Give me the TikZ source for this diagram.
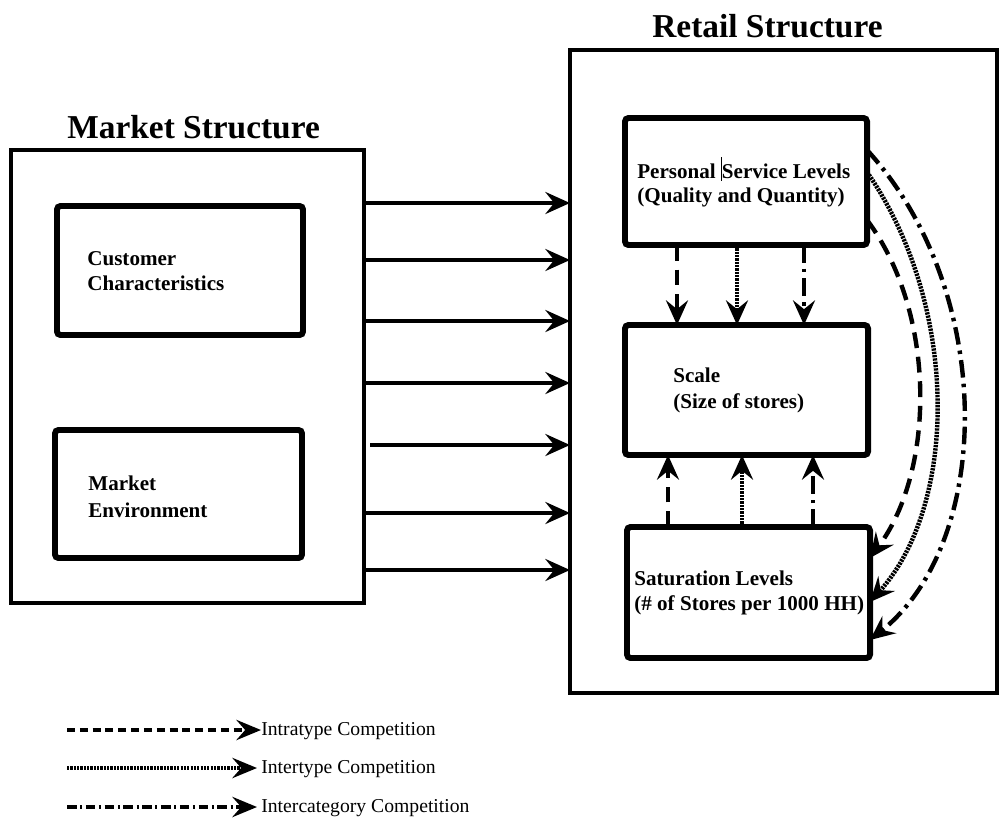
\documentclass[tikz,border=0pt]{standalone}
\usepackage{fontspec}
\setmainfont{Liberation Serif}
\usetikzlibrary{arrows.meta}
\begin{document}
\begin{tikzpicture}[x=0.02cm,y=-0.02cm,
  outerbox/.style={draw,line width=1.9pt,inner sep=0pt,outer sep=0pt},
  innerbox/.style={draw,line width=3.4pt,rounded corners=2pt,inner sep=0pt,outer sep=0pt},
  boxtext/.style={anchor=base west,inner sep=0pt,font=\fontsize{12}{14}\selectfont\bfseries},
  titletext/.style={anchor=base west,inner sep=0pt,font=\fontsize{19}{22}\selectfont\bfseries},
  legtext/.style={anchor=base west,inner sep=0pt,font=\fontsize{11.2}{13}\selectfont},
  arr/.style={line width=2.5pt,-{Stealth[length=14pt,width=12.5pt,inset=5pt]}},
  larr/.style={line width=2.8pt,-{Stealth[length=14pt,width=11.5pt,inset=5pt]}},
  dsh/.style={dash pattern=on 9pt off 5pt},
  dotd/.style={dash pattern=on 1.3pt off 0.6pt},
  dshdot/.style={dash pattern=on 10pt off 3.5pt on 2pt off 3.5pt},
  ldsh/.style={dash pattern=on 4.5pt off 2.8pt},
  ldshdot/.style={dash pattern=on 5.5pt off 2pt on 1.2pt off 2pt}]
\useasboundingbox (0,0) rectangle (1000,818);

% titles
\node[titletext] (mtitle) at (67,138) {Market Structure};
\node[titletext] (rtitle) at (652,37) {Retail Structure};

% outer boxes
\node[outerbox,minimum width={353*0.02cm},minimum height={453*0.02cm}] (lbox) at (187.5,376.5) {};
\node[outerbox,minimum width={427*0.02cm},minimum height={643*0.02cm}] (rbox) at (783.5,371.5) {};

% left inner boxes
\node[innerbox,minimum width={246*0.02cm},minimum height={129*0.02cm}] (cbox) at (180,270.5) {};
\node[boxtext] (c1) at (87,265) {Customer};
\node[boxtext] (c2) at (87,290) {Characteristics};
\node[innerbox,minimum width={247*0.02cm},minimum height={128*0.02cm}] (mbox) at (178.5,494) {};
\node[boxtext] (m1) at (88,490) {Market};
\node[boxtext] (m2) at (88,517) {Environment};

% right inner boxes
\node[innerbox,minimum width={242*0.02cm},minimum height={127*0.02cm}] (psbox) at (746,181.5) {};
\node[boxtext] (p1) at (637,178) {Personal \rule[-0.3ex]{0.5pt}{2.5ex}Service Levels};
\node[boxtext] (p2) at (637,202) {(Quality and Quantity)};
\node[innerbox,minimum width={243*0.02cm},minimum height={130*0.02cm}] (scbox) at (746.5,390) {};
\node[boxtext] (s1) at (673,382) {Scale};
\node[boxtext] (s2) at (673,408) {(Size of stores)};
\node[innerbox,minimum width={243*0.02cm},minimum height={131*0.02cm}] (sabox) at (748.5,592.5) {};
\node[boxtext] (t1) at (634,585) {Saturation Levels};
\node[boxtext] (t2) at (634,610) {(\# of Stores per 1000 HH)};

% horizontal arrows
\foreach \yy in {203,260,321,383,513,570}{
  \draw[arr] (lbox.east |- 0,\yy) -- (rbox.west |- 0,\yy);
}
\draw[arr] ([xshift=0.12cm]lbox.east |- 0,445) -- (rbox.west |- 0,445);

% vertical arrows top -> scale
\draw[arr,dsh] (psbox.south -| 677,0) -- (scbox.north -| 677,0);
\draw[arr,dotd] (psbox.south -| 737,0) -- (scbox.north -| 737,0);
\draw[arr,dshdot] (psbox.south -| 804,0) -- (scbox.north -| 804,0);

% vertical arrows saturation -> scale
\draw[arr,dsh] (sabox.north -| 668,0) -- (scbox.south -| 668,0);
\draw[arr,dotd] (sabox.north -| 742,0) -- (scbox.south -| 742,0);
\draw[arr,dshdot] (sabox.north -| 813,0) -- (scbox.south -| 813,0);

% curved arrows personal service -> saturation
\draw[arr,dsh] (psbox.east |- 0,220) .. controls (936,312) and (936,469) .. (sabox.east |- 0,558);
\draw[arr,dotd] (psbox.east |- 0,172) .. controls (959,305) and (959,503) .. (sabox.east |- 0,602);
\draw[arr,dshdot] (psbox.east |- 0,150) .. controls (995,290) and (995,540) .. (sabox.east |- 0,640);

% legend
\coordinate (l1s) at (67,730);
\coordinate (l2s) at (67,768);
\coordinate (l3s) at (67,807);
\node[legtext] (l1t) at (261,735) {Intratype Competition};
\node[legtext] (l2t) at (261,773) {Intertype Competition};
\node[legtext] (l3t) at (261,812) {Intercategory Competition};
\draw[larr,ldsh] (l1s) -- (l1t.west |- l1s);
\draw[larr,dotd] (l2s) -- ([xshift=-0.08cm]l2t.west |- l2s);
\draw[larr,ldshdot] (l3s) -- ([xshift=-0.08cm]l3t.west |- l3s);
\end{tikzpicture}
\end{document}
